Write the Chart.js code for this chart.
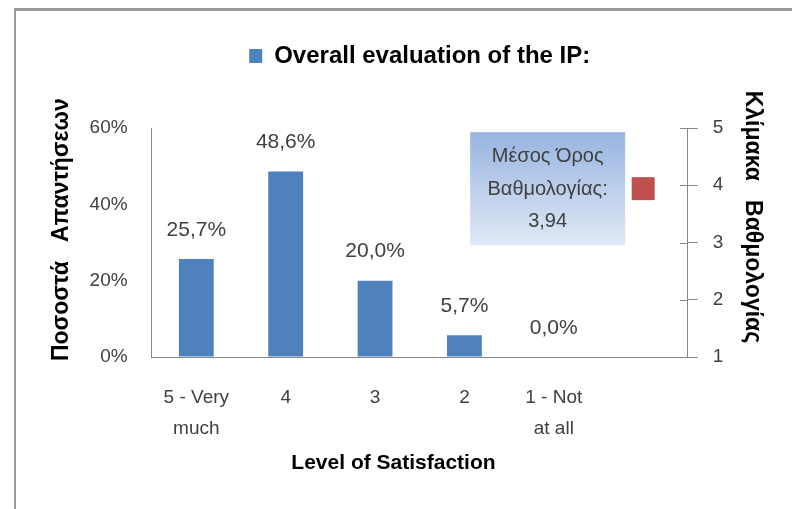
<!DOCTYPE html>
<html lang="el">
<head>
<meta charset="utf-8">
<title>Overall evaluation of the IP</title>
<script src="https://cdn.jsdelivr.net/npm/chart.js@4.4.0/dist/chart.umd.min.js"></script>
<style>
    html, body { margin: 0; padding: 0; background: #fff; }
    #chart-box { position: relative; width: 792px; height: 509px; overflow: hidden; }
    #frame {
        position: absolute; left: 14px; top: 8px; width: 800px; height: 520px;
        border-left: 2px solid #9a9a9a; border-top: 3px solid #9a9a9a;
        pointer-events: none;
    }
</style>
</head>
<body>
<div id="chart-box">
    <canvas id="satisfaction-Chart"></canvas>
    <div id="frame"></div>
</div>
<script>
// Dados do gráfico
const categories = [['5 - Very', 'much'], '4', '3', '2', ['1 - Not', 'at all'], ''];
const shares = [25.7, 48.6, 20.0, 5.7, 0.0, null];
const meanScore = [null, null, null, null, null, 3.94];
const shareTicks = [0, 20, 40, 60];
const scoreTicks = [1, 2, 3, 4, 5];
const meanText = ['Μέσος Όρος', 'Βαθμολογίας:'];

const FONT = "'Liberation Sans', Arial, sans-serif";
const AXIS_GRAY = '#868686';
const TEXT_GRAY = '#404040';

function formatNumber(value, digits) {
    return value.toFixed(digits).replace('.', ',');
}

// espaço extra entre a legenda e a área do gráfico
const legendGap = {
    id: 'legendGap',
    beforeInit(chart) {
        const fit = chart.legend.fit;
        chart.legend.fit = function () {
            fit.bind(chart.legend)();
            this.height += 50;
        };
    }
};

// rótulos de percentagem acima das barras
const barLabels = {
    id: 'barLabels',
    afterDatasetsDraw(chart) {
        const ctx = chart.ctx;
        const meta = chart.getDatasetMeta(0);
        ctx.save();
        ctx.font = '21px ' + FONT;
        ctx.fillStyle = TEXT_GRAY;
        ctx.textAlign = 'center';
        ctx.textBaseline = 'middle';
        meta.data.forEach((bar, i) => {
            if (shares[i] === null) return;
            ctx.fillText(formatNumber(shares[i], 1) + '%', bar.x, bar.y - 29);
        });
        ctx.restore();
    }
};

// caixa com a média, ao lado do ponto vermelho
const meanBox = {
    id: 'meanBox',
    afterDatasetsDraw(chart) {
        const ctx = chart.ctx;
        const idx = meanScore.findIndex(v => v !== null);
        const point = chart.getDatasetMeta(1).data[idx];
        const w = 155, h = 113;
        const right = point.x - 18;
        const top = point.y - h / 2;

        ctx.save();
        const grad = ctx.createLinearGradient(0, top, 0, top + h);
        grad.addColorStop(0, '#97b4e0');
        grad.addColorStop(1, '#e0e9f6');
        ctx.fillStyle = grad;
        ctx.fillRect(right - w, top, w, h);

        ctx.font = '20px ' + FONT;
        ctx.fillStyle = TEXT_GRAY;
        ctx.textAlign = 'center';
        ctx.textBaseline = 'middle';
        const lines = meanText.concat([formatNumber(meanScore[idx], 2)]);
        lines.forEach((line, k) => {
            ctx.fillText(line, right - w / 2, point.y - 32 + k * 32.5);
        });
        ctx.restore();
    }
};

// marcas cruzadas no eixo da direita (parte interna)
const crossTicks = {
    id: 'crossTicks',
    afterDraw(chart) {
        const axis = chart.scales.y2;
        const ctx = chart.ctx;
        ctx.save();
        ctx.strokeStyle = AXIS_GRAY;
        ctx.lineWidth = 1;
        ctx.beginPath();
        axis.ticks.forEach(t => {
            const y = Math.round(axis.getPixelForValue(t.value)) + 0.5;
            ctx.moveTo(axis.left - 8, y);
            ctx.lineTo(axis.left, y);
        });
        ctx.stroke();
        ctx.restore();
    }
};

function generateChart() {
    Chart.defaults.font.family = FONT;

    const ctx = document.getElementById('satisfaction-Chart').getContext('2d');
    new Chart(ctx, {
        type: 'bar',
        data: {
            labels: categories,
            datasets: [
                {
                    label: 'Overall evaluation of the IP:',
                    data: shares,
                    yAxisID: 'y',
                    backgroundColor: '#4f81bd',
                    borderWidth: 0,
                    barPercentage: 0.39,
                    categoryPercentage: 1
                },
                {
                    type: 'line',
                    label: 'Μέσος Όρος Βαθμολογίας',
                    data: meanScore,
                    yAxisID: 'y2',
                    showLine: false,
                    pointStyle: 'rect',
                    pointRadius: 15.5,
                    backgroundColor: '#c0504d',
                    borderColor: '#b94c49',
                    borderWidth: 1
                }
            ]
        },
        options: {
            responsive: true,
            maintainAspectRatio: false,
            animation: false,
            events: [],
            layout: {
                padding: { top: 34, right: 22, bottom: 29, left: 44 }
            },
            plugins: {
                tooltip: { enabled: false },
                legend: {
                    position: 'top',
                    fullSize: false,
                    labels: {
                        filter: item => item.datasetIndex === 0,
                        boxWidth: 13,
                        boxHeight: 14,
                        color: '#000',
                        font: { size: 24, weight: 'bold' }
                    }
                }
            },
            scales: {
                x: {
                    offset: true,
                    grid: {
                        display: true,
                        drawOnChartArea: false,
                        drawTicks: true,
                        tickLength: 20,
                        color: 'rgba(0,0,0,0)'
                    },
                    border: { display: true, color: AXIS_GRAY, width: 1 },
                    ticks: {
                        padding: 6,
                        color: TEXT_GRAY,
                        autoSkip: false,
                        maxRotation: 0,
                        font: { size: 19, lineHeight: 1.6 }
                    },
                    title: {
                        display: true,
                        text: 'Level of Satisfaction         ',
                        color: '#000',
                        font: { size: 21, weight: 'bold' },
                        padding: { top: 1, bottom: 4 }
                    }
                },
                y: {
                    position: 'left',
                    min: 0,
                    max: 60,
                    afterBuildTicks: axis => {
                        axis.ticks = shareTicks.map(v => ({ value: v }));
                    },
                    grid: {
                        display: true,
                        drawOnChartArea: false,
                        drawTicks: true,
                        tickLength: 10,
                        color: 'rgba(0,0,0,0)'
                    },
                    border: { display: true, color: AXIS_GRAY, width: 1 },
                    ticks: {
                        padding: 14,
                        color: TEXT_GRAY,
                        font: { size: 19 },
                        callback: v => v + '%'
                    },
                    title: {
                        display: true,
                        text: '    Ποσοστά   Απαντήσεων',
                        color: '#000',
                        font: { size: 23, weight: 'bold' },
                        padding: { top: 4, bottom: 0 }
                    }
                },
                y2: {
                    position: 'right',
                    min: 1,
                    max: 5,
                    afterBuildTicks: axis => {
                        axis.ticks = scoreTicks.map(v => ({ value: v }));
                    },
                    grid: {
                        display: true,
                        drawOnChartArea: false,
                        drawTicks: true,
                        tickLength: 10,
                        color: AXIS_GRAY
                    },
                    border: { display: true, color: AXIS_GRAY, width: 1 },
                    ticks: {
                        padding: 15,
                        color: TEXT_GRAY,
                        font: { size: 19 }
                    },
                    title: {
                        display: true,
                        text: 'Κλίμακα   Βαθμολογίας        ',
                        color: '#000',
                        font: { size: 23, weight: 'bold' },
                        padding: { top: 4, bottom: 0 }
                    }
                }
            }
        },
        plugins: [legendGap, barLabels, meanBox, crossTicks]
    });
}

document.addEventListener('DOMContentLoaded', generateChart);
</script>
</body>
</html>
